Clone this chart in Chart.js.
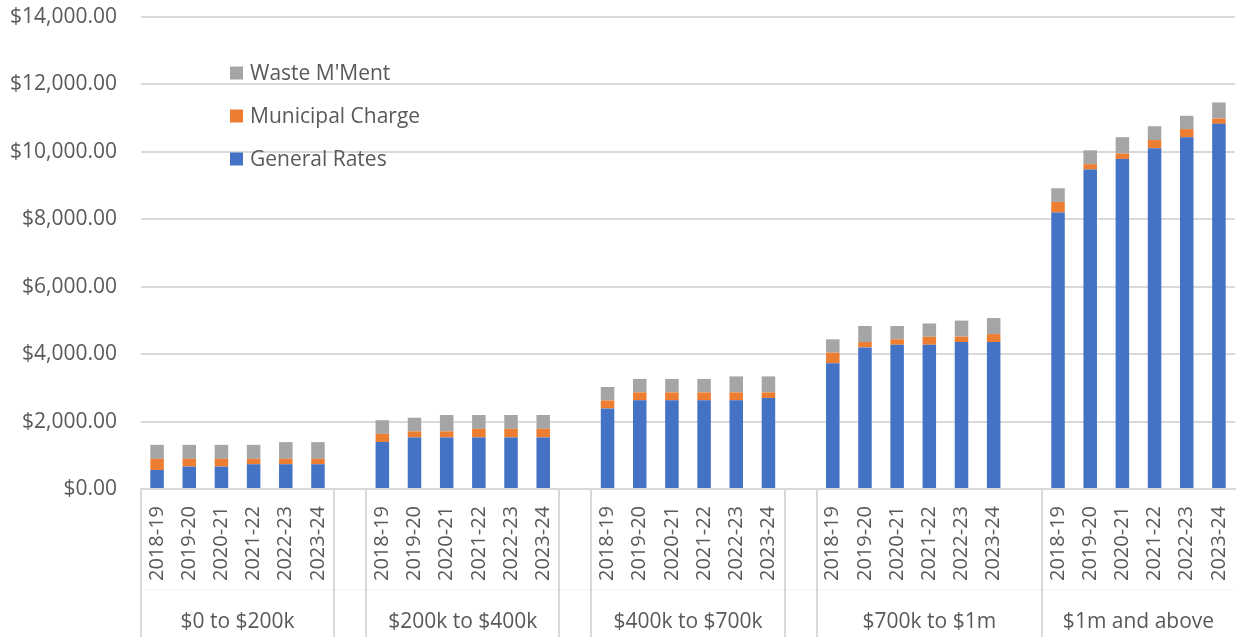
<!DOCTYPE html>
<html>
<head>
<meta charset="utf-8">
<script src="https://cdn.jsdelivr.net/npm/chart.js@4/dist/chart.umd.min.js"></script>
<style>
html,body{margin:0;padding:0;background:#ffffff;}
#wrap{width:1236px;height:637px;position:relative;}
</style>
</head>
<body>
<div id="wrap"><canvas id="c"></canvas></div>
<script>
// ---- data ----
const years = ['2018-19','2019-20','2020-21','2021-22','2022-23','2023-24'];
const groups = ['$0 to $200k','$200k to $400k','$400k to $700k','$700k to $1m','$1m and above'];
const generalRates = [
  [565, 665, 665, 735, 735, 735],
  [1395, 1530, 1530, 1530, 1530, 1530],
  [2390, 2630, 2630, 2630, 2630, 2700],
  [3730, 4200, 4280, 4280, 4360, 4360],
  [8200, 9475, 9790, 10110, 10430, 10830]
];
const municipalCharge = [
  [330, 230, 230, 160, 160, 160],
  [240, 180, 180, 255, 255, 255],
  [235, 235, 235, 235, 235, 165],
  [315, 160, 160, 235, 160, 235],
  [315, 160, 160, 240, 245, 160]
];
const wasteMgmt = [
  [415, 415, 415, 415, 495, 495],
  [405, 405, 485, 410, 410, 410],
  [400, 400, 400, 400, 475, 475],
  [395, 475, 395, 395, 475, 475],
  [405, 410, 485, 410, 395, 475]
];
const yTickValues = [0, 2000, 4000, 6000, 8000, 10000, 12000, 14000];
// category-index spans of the outer (group) label boxes
const groupSpans = [[-0.5, 5.5], [6.5, 12.5], [13.5, 19.5], [20.5, 27.5], [27.5, 33.5]];

// ---- build flat category table (blank slot between groups) ----
const labels = [], gen = [], mun = [], was = [];
groups.forEach((g, i) => {
  years.forEach((y, j) => {
    labels.push(y);
    gen.push(generalRates[i][j]);
    mun.push(municipalCharge[i][j]);
    was.push(wasteMgmt[i][j]);
  });
  if (i < groups.length - 1) { labels.push(''); gen.push(null); mun.push(null); was.push(null); }
});
const groupCenters = groupSpans.map(s => (s[0] + s[1]) / 2);
const boundaries = [];
groupSpans.forEach((s, i) => { if (!boundaries.includes(s[0])) boundaries.push(s[0]); if (i < groupSpans.length - 1 && !boundaries.includes(s[1])) boundaries.push(s[1]); });

const TEXT = '#595959';
const GRID = '#d9d9d9';
const FONT = "'Open Sans', 'Liberation Sans', sans-serif";
Chart.defaults.font.family = FONT;
Chart.defaults.font.size = 21;
Chart.defaults.color = TEXT;

const INNER_H = 100;   // height of the year-label row
const axisBoxes = {
  id: 'axisBoxes',
  afterDraw(chart) {
    const ctx = chart.ctx, x = chart.scales.x;
    const rowY = Math.round(x.top + INNER_H) + 0.5;
    ctx.save();
    ctx.strokeStyle = '#f3f3f3';
    ctx.lineWidth = 1;
    ctx.beginPath();
    ctx.moveTo(x.left, rowY);
    ctx.lineTo(x.right, rowY);
    ctx.stroke();
    ctx.strokeStyle = GRID;
    ctx.lineWidth = 2;
    boundaries.forEach(b => {
      const px = Math.round(x.getPixelForValue(b));
      ctx.beginPath();
      ctx.moveTo(px, x.top);
      ctx.lineTo(px, chart.height);
      ctx.stroke();
    });
    // outer category level (group names)
    ctx.fillStyle = TEXT;
    ctx.font = "21px " + FONT;
    ctx.textAlign = 'center';
    ctx.textBaseline = 'middle';
    groups.forEach((g, i) => {
      ctx.fillText(g, x.getPixelForValue(groupCenters[i]), x.top + INNER_H + 33);
    });
    ctx.restore();
  }
};

const legendBlock = {
  id: 'legendBlock',
  afterDraw(chart) {
    const ctx = chart.ctx;
    ctx.save();
    ctx.font = "21px " + FONT;
    ctx.textBaseline = 'middle';
    ctx.textAlign = 'left';
    chart.data.datasets.slice().reverse().forEach((d, k) => {
      const cy = 73 + k * 43;
      ctx.fillStyle = d.backgroundColor;
      ctx.fillRect(230, cy - 6.5, 13, 13);
      ctx.fillStyle = TEXT;
      ctx.fillText(d.label, 250, cy + 1);
    });
    ctx.restore();
  }
};

new Chart(document.getElementById('c'), {
  type: 'bar',
  data: {
    labels: labels,
    datasets: [
      { label: 'General Rates', data: gen, backgroundColor: '#4472C4' },
      { label: 'Municipal Charge', data: mun, backgroundColor: '#ED7D31' },
      { label: "Waste M'Ment", data: was, backgroundColor: '#A5A5A5' }
    ]
  },
  options: {
    responsive: true,
    maintainAspectRatio: false,
    animation: false,
    layout: { padding: { top: 17, right: 1, bottom: 0, left: 0 } },
    datasets: { bar: { barPercentage: 0.42, categoryPercentage: 1.0, borderWidth: 0 } },
    plugins: { legend: { display: false }, tooltip: { enabled: false } },
    scales: {
      x: {
        type: 'category',
        stacked: true,
        grid: { display: false, drawTicks: false },
        border: { display: true, color: GRID, width: 2 },
        ticks: { autoSkip: false, minRotation: 90, maxRotation: 90, padding: 17, color: TEXT, font: { size: 20 } },
        afterFit: s => { s.height = 148; s.paddingLeft = 0; s.paddingRight = 0; }
      },
      y: {
        stacked: true,
        min: 0,
        max: 14000,
        afterBuildTicks: a => { a.ticks = yTickValues.map(v => ({ value: v })); },
        grid: { color: GRID, lineWidth: 2, drawTicks: false },
        border: { display: false },
        ticks: { padding: 24, color: TEXT,
                 callback: v => '$' + Number(v).toLocaleString('en-US', { minimumFractionDigits: 2, maximumFractionDigits: 2 }) },
        afterFit: s => { s.width = 141; s.paddingTop = 0; s.paddingBottom = 0; }
      }
    }
  },
  plugins: [axisBoxes, legendBlock]
});
</script>
</body>
</html>
